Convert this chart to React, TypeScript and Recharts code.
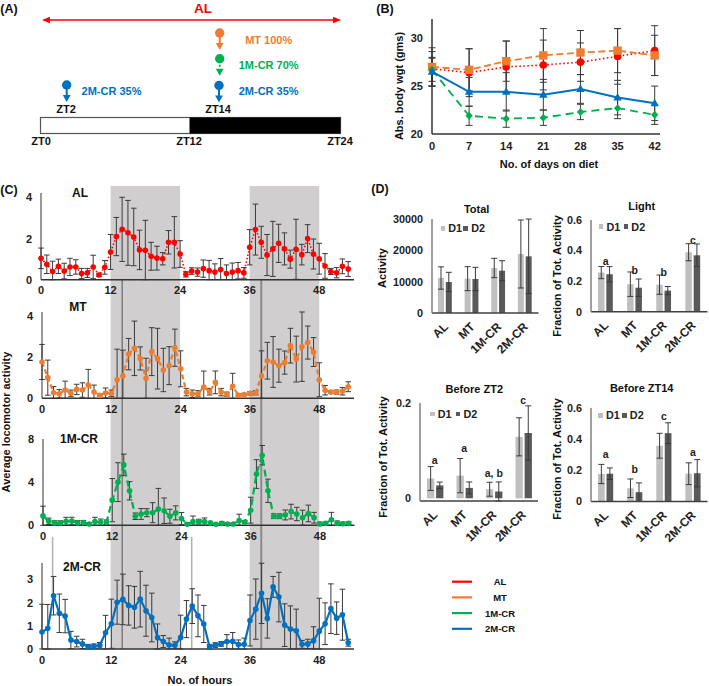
import React from 'react'
import {
  Bar,
  BarChart,
  ComposedChart,
  ErrorBar,
  Line,
  LineChart,
  ReferenceArea,
  ReferenceDot,
  ReferenceLine,
  XAxis,
  YAxis,
} from 'recharts'

const FONT = '"Liberation Sans", Arial, sans-serif'
const RED = '#ff0000'
const ORANGE = '#ed7d31'
const GREEN = '#00b050'
const BLUE = '#0070c0'
const ERR = '#3a3a3a'
const LIGHT_BAR = '#bfbfbf'
const DARK_BAR = '#595959'

// panel B
const dietDays = [0, 7, 14, 21, 28, 35, 42]
const weightAL = [26.8, 26.4, 27, 27.2, 27.5, 28.1, 28.7]
const weightMT = [27, 26.7, 27.6, 28.2, 28.5, 28.7, 28.2]
const weight1M = [26.7, 21.9, 21.6, 21.7, 22.3, 22.7, 22]
const weight2M = [26.5, 24.4, 24.4, 24.1, 24.7, 23.8, 23.2]
const weightErrAL = [1.8, 2.5, 2.7, 2.6, 2, 2.9, 2.6]
const weightErrMT = [2, 2.2, 2.1, 2.8, 2.3, 2.3, 2.1]
const weightErr1M = [1.2, 1, 0.9, 0.8, 0.8, 1.1, 1]
const weightErr2M = [1.5, 1.5, 2, 1.6, 1.5, 1.8, 1.8]

// panel C, one value per hour
const hourTicks = [0, 12, 24, 36, 48]
const activityAL = [1.04, 0.75, 0.4, 0.65, 0.42, 0.62, 0.62, 0.3, 0.33, 0.62, 0.23, 0.6, 1.35, 2.1, 2.45, 2.28, 2.08, 1.45, 1.43, 1.14, 1.05, 1.02, 1.82, 1.82, 1.25, 0.26, 0.42, 0.37, 0.54, 0.44, 0.37, 0.49, 0.3, 0.37, 0.44, 0.33, 1.58, 2.44, 1.82, 1.2, 1.5, 1.77, 1.5, 1, 1.48, 1.22, 2, 1.25, 1.02, 0.67, 0.4, 0.34, 0.65, 0.52]
const activityErrAL = [0.5, 0.45, 0.5, 0.35, 0.38, 0.42, 0.35, 0.25, 0.22, 0.57, 0.08, 0.33, 0.85, 0.93, 1.56, 1.58, 1.4, 0.96, 1.46, 0.68, 0.58, 0.3, 0.57, 1.25, 0.65, 0.13, 0.16, 0.2, 0.42, 0.5, 0.4, 0.54, 0.42, 0.44, 0.4, 0.26, 0.86, 1.24, 0.78, 1, 1.34, 0.93, 0.78, 0.44, 1.46, 0.5, 0.68, 0.73, 0.75, 0.6, 0.15, 0.25, 0.36, 0.36]
const activityMT = [1.76, 1, 0.27, 0.22, 0.4, 0.24, 0.43, 0.4, 0.64, 0.3, 0.15, 0.26, 0.24, 0.9, 1.08, 2.14, 2.42, 1.93, 0.97, 2.26, 1.92, 1.37, 1.58, 2.45, 1.43, 0.3, 0.22, 0.22, 0.55, 0.32, 0.77, 0.3, 0.2, 0.58, 0.15, 0.18, 0.24, 0.27, 1.08, 1.82, 1.76, 1.58, 1.73, 2.55, 1.9, 2.5, 2.7, 2.24, 0.9, 0.39, 0.3, 0.3, 0.34, 0.56]
const activityErrMT = [0.85, 0.85, 0.3, 0.2, 0.43, 0.16, 0.25, 0.35, 0.76, 0.34, 0.05, 0.24, 0.16, 1.48, 1.25, 0.76, 1.32, 0.56, 0.97, 1.16, 1.47, 1.05, 0.92, 0.9, 0.87, 0.18, 0.18, 0.15, 0.77, 0.16, 0.55, 0.18, 0.1, 0.63, 0.06, 0.06, 0.08, 0.1, 1.22, 0.89, 1.23, 0.8, 0.56, 0.84, 1.11, 1.68, 0.8, 0.7, 0.82, 0.23, 0.06, 0.1, 0.18, 0.24]
const activity1M = [0.87, 0.37, 0.22, 0.22, 0.37, 0.4, 0.22, 0.25, 0.12, 0.34, 0.28, 0.28, 2.33, 4, 5.6, 3.2, 0.84, 1.05, 1.17, 1.17, 1.5, 1.35, 0.84, 1.15, 0.62, 0.1, 0.34, 0.34, 0.34, 0.22, 0.1, 0.18, 0.12, 0.12, 0.43, 0.3, 1.4, 4.75, 6.5, 3.2, 0.84, 0.84, 0.96, 1.27, 1.05, 0.7, 1.1, 0.7, 0.12, 0.18, 0.52, 0.2, 0.15, 0.18]
const activityErr1M = [0.9, 0.3, 0.2, 0.2, 0.37, 0.35, 0.22, 0.2, 0.12, 0.4, 0.3, 0.22, 2, 1.8, 1, 0.85, 0.3, 0.5, 0.37, 0.93, 1.92, 1.18, 0.65, 0.65, 0.56, 0.1, 0.52, 0.22, 0.34, 0.12, 0.08, 0.16, 0.1, 0.1, 0.6, 0.12, 1.2, 1.33, 0.9, 1.08, 0.22, 0.22, 0.46, 0.68, 0.62, 0.7, 0.77, 0.5, 0.18, 0.12, 0.68, 0.2, 0.15, 0.15]
const activity2M = [0.73, 0.89, 2.3, 1.54, 1.42, 0.39, 0.32, 0.22, 0.1, 0.12, 0.16, 0.7, 1.09, 2.02, 2.14, 1.88, 1.8, 2.15, 1.65, 1.36, 0.49, 0.32, 0.17, 0.16, 0.5, 1.29, 1.85, 1.43, 1.08, 0.1, 0.17, 0.22, 0.32, 0.33, 0.19, 0.2, 1.23, 1.72, 2.4, 1.32, 2.68, 2.24, 1.03, 0.86, 0.79, 0.2, 0.22, 0.36, 0.77, 1.09, 1.74, 1.33, 1.48, 0.27]
const activityErr2M = [1.2, 1.03, 0.83, 0.83, 0.72, 0.37, 0.23, 0.2, 0.1, 0.1, 0.12, 0.75, 1.06, 0.95, 1.09, 0.85, 0.9, 1.2, 1.1, 1.05, 0.59, 0.26, 0.3, 0.15, 0.96, 0.8, 0.75, 0.9, 0.8, 0.1, 0.1, 0.1, 0.3, 0.38, 0.2, 0.27, 1.1, 1.3, 1.3, 0.85, 0.45, 1.07, 0.92, 1, 0.93, 0.17, 0.2, 0.6, 1.42, 0.9, 1.07, 0.7, 1.1, 0.15]

const darkBands = [[12, 24], [36, 48]]
// marker lines for feeding times; from/to are distances below the top of the bands
const feedingLines = [
  { hour: 14, from: 94, to: 463, color: '#555555', width: 1 },
  { hour: 38, from: 94, to: 463, color: '#8a8a8a', width: 2 },
  { hour: 2, from: 351, to: 410, color: '#b0b0b0', width: 1.5 },
  { hour: 26, from: 351, to: 463, color: '#b0b0b0', width: 1.5 },
]

// panel D
const groups = ['AL', 'MT', '1M-CR', '2M-CR']
const totalD1 = [11170, 10960, 14360, 18830]
const totalD2 = [9900, 10850, 13500, 18085]
const totalErrD1 = [3560, 3830, 3085, 10850]
const totalErrD2 = [3085, 3720, 3190, 11900]
const lightD1 = [0.256, 0.18, 0.177, 0.389]
const lightD2 = [0.245, 0.157, 0.138, 0.369]
const lightErrD1 = [0.04, 0.08, 0.063, 0.056]
const lightErrD2 = [0.05, 0.057, 0.027, 0.074]
const lightLetters = ['a', 'b', 'b', 'c']
const lightLetterY = [0.33, 0.27, 0.26, 0.47]
const zt2D1 = [0.0415, 0.0476, 0.019, 0.129]
const zt2D2 = [0.027, 0.0218, 0.0143, 0.137]
const zt2ErrD1 = [0.025, 0.036, 0.0146, 0.04]
const zt2ErrD2 = [0.007, 0.0125, 0.02, 0.057]
const zt2Letters = ['a', 'a', 'a, b', 'c']
const zt2LetterY = [0.08, 0.104, 0.052, 0.205]
const zt14D1 = [0.175, 0.083, 0.357, 0.177]
const zt14D2 = [0.177, 0.058, 0.438, 0.18]
const zt14ErrD1 = [0.062, 0.06, 0.08, 0.07]
const zt14ErrD2 = [0.037, 0.06, 0.067, 0.088]
const zt14Letters = ['a', 'b', 'c', 'a']
const zt14LetterY = [0.303, 0.205, 0.547, 0.316]

const legendRows = [
  { name: 'AL', color: RED },
  { name: 'MT', color: ORANGE },
  { name: '1M-CR', color: GREEN },
  { name: '2M-CR', color: BLUE },
]

const boldTick = (size: number) => ({ fontSize: size, fontWeight: 'bold', fill: '#222', fontFamily: FONT })

function slantedTick({ x, y, payload }: any) {
  return (
    <text
      transform={`translate(${x + 3.5} ${y + 5.5}) rotate(-45)`}
      textAnchor="end"
      fontSize={12}
      fontWeight="bold"
      fill="#222"
    >
      {payload.value}
    </text>
  )
}

function HourPanel({ mean, err, color, dash, axisLeft, axisTop, y0, yMax, yTicks, plotWidth }: any) {
  const rows = mean.map((v: number, i: number) => ({ hour: i, v, e: [Math.min(err[i], v), err[i]] }))
  const yw = 30
  return (
    <div style={{ position: 'absolute', left: axisLeft - yw, top: axisTop - 8 }}>
      <LineChart
        width={yw + plotWidth + 10}
        height={y0 - axisTop + 8 + 24}
        data={rows}
        margin={{ top: 8, right: 10, bottom: 0, left: 0 }}
      >
        <XAxis
          dataKey="hour"
          type="number"
          domain={[0, 54]}
          ticks={hourTicks}
          interval={0}
          height={24}
          tickLine={false}
          tickMargin={1}
          stroke="#333"
          strokeWidth={1.5}
          tick={boldTick(11)}
        />
        <YAxis
          width={yw}
          domain={[0, yMax]}
          ticks={yTicks}
          interval={0}
          tickLine={false}
          tickMargin={3}
          stroke="#333"
          tick={boldTick(11)}
        />
        <Line
          dataKey="v"
          stroke={color}
          strokeWidth={dash === '1.5 2' ? 1.6 : 2.2}
          strokeDasharray={dash}
          dot={{ r: 2.8, fill: color, stroke: color, strokeWidth: 0 }}
          isAnimationActive={false}
        >
          <ErrorBar dataKey="e" direction="y" width={2.8} stroke={ERR} strokeWidth={1} />
        </Line>
      </LineChart>
    </div>
  )
}

function BarPanel({ d1, d2, errD1, errD2, letters, letterY, axisLeft, axisTop, y0, yMax, yTicks, plotWidth, barSize, legendAt, legendStep, tickFormat }: any) {
  const rows = groups.map((g, i) => ({
    group: g,
    d1: d1[i],
    d2: d2[i],
    e1: errD1[i],
    e2: errD2[i],
  }))
  const yw = 50
  const top = 12
  return (
    <div style={{ position: 'absolute', left: axisLeft - yw, top: axisTop - top }}>
      <BarChart
        width={yw + plotWidth + 1}
        height={y0 - axisTop + top + 52}
        data={rows}
        barSize={barSize}
        barGap={1.8}
        margin={{ top, right: 1, bottom: 0, left: 0 }}
      >
        <XAxis
          dataKey="group"
          height={52}
          interval={0}
          tickLine={false}
          tickMargin={3}
          stroke="#404040"
          strokeWidth={1.5}
          tick={slantedTick}
        />
        <YAxis
          width={yw}
          domain={[0, yMax]}
          ticks={yTicks}
          interval={0}
          tickLine={false}
          tickMargin={3}
          tickFormatter={tickFormat}
          stroke="#808080"
          strokeWidth={1.5}
          tick={boldTick(10.8)}
        />
        <Bar dataKey="d1" fill={LIGHT_BAR} isAnimationActive={false}>
          <ErrorBar dataKey="e1" direction="y" width={3} stroke={ERR} strokeWidth={1} />
        </Bar>
        <Bar dataKey="d2" fill={DARK_BAR} isAnimationActive={false}>
          <ErrorBar dataKey="e2" direction="y" width={3} stroke={ERR} strokeWidth={1} />
        </Bar>
        {letters &&
          letters.map((l: string, i: number) => (
            <ReferenceDot
              key={i}
              x={groups[i]}
              y={letterY[i]}
              r={0}
              ifOverflow="visible"
              fill="none"
              stroke="none"
              label={{ value: l, position: 'center', fontSize: 10.5, fontWeight: 'bold', fill: '#222' }}
            />
          ))}
      </BarChart>
      <div style={{ position: 'absolute', left: yw + legendAt[0], top: top + legendAt[1], display: 'flex', alignItems: 'center', fontSize: 10.8, fontWeight: 'bold', color: '#222', lineHeight: '12px' }}>
        <span style={{ width: 4.7, height: 4.7, background: LIGHT_BAR, marginRight: 3 }} />
        <span style={{ width: legendStep - 7.7 }}>D1</span>
        <span style={{ width: 4.7, height: 4.7, background: DARK_BAR, marginRight: 3 }} />
        <span>D2</span>
      </div>
    </div>
  )
}

function diamond(p: any) {
  return <polygon key={p.index} points={`${p.cx},${p.cy - 4} ${p.cx + 3.6},${p.cy} ${p.cx},${p.cy + 4} ${p.cx - 3.6},${p.cy}`} fill={GREEN} />
}
function square(p: any) {
  return <rect key={p.index} x={p.cx - 4.2} y={p.cy - 4.2} width={8.4} height={8.4} fill={ORANGE} />
}
function triangle(p: any) {
  return <polygon key={p.index} points={`${p.cx},${p.cy - 4.6} ${p.cx + 4.2},${p.cy + 3} ${p.cx - 4.2},${p.cy + 3}`} fill={BLUE} />
}

function Label({ x, y, size = 11, color = '#111', rotate, children }: any) {
  return (
    <text
      x={x}
      y={y}
      fontSize={size}
      fontWeight="bold"
      fill={color}
      textAnchor="middle"
      dominantBaseline="central"
      transform={rotate ? `rotate(${rotate} ${x} ${y})` : undefined}
    >
      {children}
    </text>
  )
}

function Pin({ x, y, color, dashed }: any) {
  return (
    <g fill={color} stroke="none">
      <circle cx={x} cy={y} r={4.7} />
      {dashed ? (
        <rect x={x - 0.9} y={y + 6} width={1.8} height={2.2} />
      ) : (
        <rect x={x - 1} y={y + 4} width={2} height={7} />
      )}
      <polygon points={`${x - 3.9},${y + 10} ${x + 3.9},${y + 10} ${x},${y + 17}`} />
    </g>
  )
}

function Schematic() {
  return (
    <g>
      <line x1={46} y1={20} x2={337} y2={20} stroke={RED} strokeWidth={1.6} />
      <polygon points="42,20 50,16.8 50,23.2" fill={RED} />
      <polygon points="341,20 333,16.8 333,23.2" fill={RED} />
      <Label x={203} y={8} size={13.5} color={RED}>AL</Label>
      <Pin x={219.7} y={33} color={ORANGE} />
      <Pin x={219.7} y={58.7} color={GREEN} dashed />
      <Pin x={219} y={85.5} color={BLUE} />
      <Pin x={66.7} y={85} color={BLUE} />
      <Label x={268.7} y={40} color={ORANGE}>MT 100%</Label>
      <Label x={268.7} y={65} color={GREEN}>1M-CR 70%</Label>
      <Label x={268.7} y={91} color={BLUE}>2M-CR 35%</Label>
      <Label x={111.5} y={91} color={BLUE}>2M-CR 35%</Label>
      <Label x={66} y={109}>ZT2</Label>
      <Label x={218} y={109}>ZT14</Label>
      <rect x={40.5} y={117.5} width={300} height={16} fill="#fff" stroke="#555" strokeWidth={1.2} />
      <rect x={189.5} y={117.5} width={151} height={16} fill="#000" />
      <Label x={41} y={141}>ZT0</Label>
      <Label x={189} y={141}>ZT12</Label>
      <Label x={340} y={141}>ZT24</Label>
    </g>
  )
}

export default function App() {
  const weightRows = dietDays.map((d, i) => ({
    day: d,
    al: weightAL[i],
    mt: weightMT[i],
    m1: weight1M[i],
    m2: weight2M[i],
    eAl: weightErrAL[i],
    eMt: weightErrMT[i],
    e1: weightErr1M[i],
    e2: weightErr2M[i],
  }))
  const bandRows = hourTicks.map((h) => ({ hour: h, zero: 0 }))

  return (
    <div style={{ position: 'absolute', left: 0, top: 0, width: 709, height: 686, background: '#fff', fontFamily: FONT, overflow: 'hidden' }}>
      {/* grey night bands and feeding lines run behind all four hourly panels */}
      <div style={{ position: 'absolute', left: 41.3, top: 186 }}>
        <ComposedChart width={313} height={463} data={bandRows} margin={{ top: 0, right: 0, bottom: 0, left: 0 }}>
          <XAxis dataKey="hour" type="number" domain={[0, 54]} hide />
          <YAxis domain={[0, 463]} reversed hide />
          {darkBands.map(([a, b]) => (
            <ReferenceArea key={a} x1={a} x2={b} y1={0} y2={463} fill="#d0cecf" fillOpacity={1} stroke="none" />
          ))}
          {feedingLines.map((l) => (
            <ReferenceLine
              key={l.hour}
              segment={[{ x: l.hour, y: l.from }, { x: l.hour, y: l.to }]}
              stroke={l.color}
              strokeWidth={l.width}
            />
          ))}
          <Line dataKey="zero" stroke="none" dot={false} isAnimationActive={false} />
        </ComposedChart>
      </div>

      <HourPanel mean={activityAL} err={activityErrAL} color={RED} dash="1.5 2" axisLeft={41.3} axisTop={193} y0={279.7} yMax={4.22} yTicks={[0, 2, 4]} plotWidth={313} />
      <HourPanel mean={activityMT} err={activityErrMT} color={ORANGE} dash="5 3" axisLeft={42.3} axisTop={312} y0={398.3} yMax={4.17} yTicks={[0, 2, 4]} plotWidth={312} />
      <HourPanel mean={activity1M} err={activityErr1M} color={GREEN} dash="7 4" axisLeft={43} axisTop={439} y0={525.3} yMax={8} yTicks={[0, 4, 8]} plotWidth={311.5} />
      <HourPanel mean={activity2M} err={activityErr2M} color={BLUE} axisLeft={42.3} axisTop={563.3} y0={649.3} yMax={3.71} yTicks={[0, 1, 2, 3]} plotWidth={312} />

      <div style={{ position: 'absolute', left: 392, top: 11 }}>
        <LineChart width={273} height={148} data={weightRows} margin={{ top: 8, right: 5, bottom: 0, left: 0 }}>
          <XAxis dataKey="day" type="number" domain={[0, 43]} ticks={dietDays} interval={0} height={25} tickLine={false} tickMargin={2} stroke="#333" strokeWidth={1.5} tick={boldTick(11)} />
          <YAxis width={40} domain={[20, 32]} ticks={[20, 25, 30]} interval={0} tickLine={false} tickMargin={3} stroke="#333" strokeWidth={1.5} tick={boldTick(11)} />
          <Line dataKey="al" stroke={RED} strokeWidth={1.6} strokeDasharray="1.5 2.5" dot={{ r: 3.8, fill: RED, stroke: 'none' }} isAnimationActive={false}>
            <ErrorBar dataKey="eAl" direction="y" width={3.5} stroke={ERR} strokeWidth={1} />
          </Line>
          <Line dataKey="mt" stroke={ORANGE} strokeWidth={1.8} strokeDasharray="7 3.5" dot={square} isAnimationActive={false}>
            <ErrorBar dataKey="eMt" direction="y" width={3.5} stroke={ERR} strokeWidth={1} />
          </Line>
          <Line dataKey="m1" stroke={GREEN} strokeWidth={1.8} strokeDasharray="8 5" dot={diamond} isAnimationActive={false}>
            <ErrorBar dataKey="e1" direction="y" width={3.5} stroke={ERR} strokeWidth={1} />
          </Line>
          <Line dataKey="m2" stroke={BLUE} strokeWidth={2} dot={triangle} isAnimationActive={false}>
            <ErrorBar dataKey="e2" direction="y" width={3.5} stroke={ERR} strokeWidth={1} />
          </Line>
        </LineChart>
      </div>

      <BarPanel d1={totalD1} d2={totalD2} errD1={totalErrD1} errD2={totalErrD2} axisLeft={432} axisTop={218.7} y0={312.7} yMax={30000} yTicks={[0, 10000, 20000, 30000]} plotWidth={106.5} barSize={6} legendAt={[8.5, 3.5]} legendStep={23} />
      <BarPanel d1={lightD1} d2={lightD2} errD1={lightErrD1} errD2={lightErrD2} letters={lightLetters} letterY={lightLetterY} axisLeft={590.7} axisTop={220} y0={311.7} yMax={0.6} yTicks={[0, 0.2, 0.4, 0.6]} plotWidth={116.5} barSize={6.5} legendAt={[8, 0.7]} legendStep={25} tickFormat={(v: number) => String(v)} />
      <BarPanel d1={zt2D1} d2={zt2D2} errD1={zt2ErrD1} errD2={zt2ErrD2} letters={zt2Letters} letterY={zt2LetterY} axisLeft={420} axisTop={403.3} y0={501.3} yMax={0.2} yTicks={[0, 0.2]} plotWidth={118} barSize={7.3} legendAt={[10, 4.7]} legendStep={25.7} tickFormat={(v: number) => String(v)} />
      <BarPanel d1={zt14D1} d2={zt14D2} errD1={zt14ErrD1} errD2={zt14ErrD2} letters={zt14Letters} letterY={zt14LetterY} axisLeft={590.7} axisTop={407.5} y0={501} yMax={0.6} yTicks={[0, 0.2, 0.4, 0.6]} plotWidth={116.5} barSize={6.7} legendAt={[7.5, 1.8]} legendStep={24} tickFormat={(v: number) => String(v)} />

      <svg width={709} height={686} style={{ position: 'absolute', left: 0, top: 0, pointerEvents: 'none' }}>
        <Schematic />
        <Label x={9} y={9} size={12.5}>(A)</Label>
        <Label x={385} y={9} size={12.5}>(B)</Label>
        <Label x={9} y={190} size={12.5}>(C)</Label>
        <Label x={380} y={189} size={12.5}>(D)</Label>

        <Label x={549} y={164}>No. of days on diet</Label>
        <Label x={398.7} y={86} rotate={-90}>Abs. body wgt (gms)</Label>

        <Label x={80} y={193} size={12}>AL</Label>
        <Label x={78} y={306.7} size={12}>MT</Label>
        <Label x={79} y={439} size={12}>1M-CR</Label>
        <Label x={82} y={566.7} size={12}>2M-CR</Label>
        <Label x={200} y={680}>No. of hours</Label>
        <Label x={5.5} y={422} rotate={-90}>Average locomotor activity</Label>

        <Label x={476.7} y={208.7}>Total</Label>
        <Label x={641.7} y={206}>Light</Label>
        <Label x={474.3} y={388.7}>Before ZT2</Label>
        <Label x={641.7} y={388}>Before ZT14</Label>
        <Label x={382} y={268} rotate={-90}>Activity</Label>
        <Label x={557} y={276} rotate={-90}>Fraction of Tot. Activity</Label>
        <Label x={382.7} y={457} rotate={-90}>Fraction of Tot. Activity</Label>
        <Label x={557} y={459} rotate={-90}>Fraction of Tot. Activity</Label>

        {legendRows.map((r, i) => (
          <g key={r.name}>
            <line x1={452} x2={472} y1={581.7 + i * 15.7} y2={581.7 + i * 15.7} stroke={r.color} strokeWidth={2.2} />
            <Label x={500} y={581.7 + i * 15.7} size={9.5}>{r.name}</Label>
          </g>
        ))}
      </svg>
    </div>
  )
}
